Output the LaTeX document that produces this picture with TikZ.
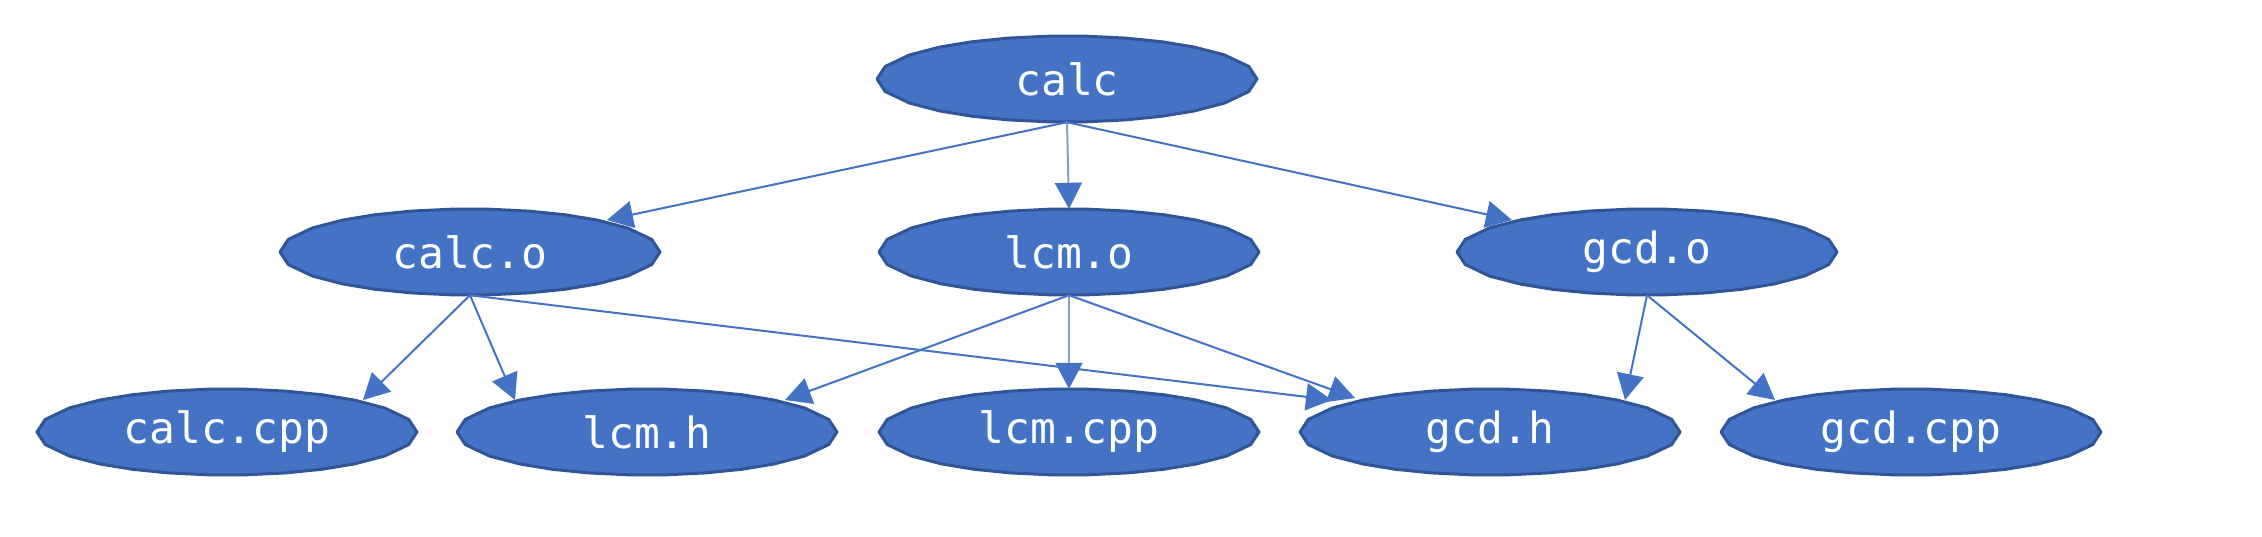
\documentclass[tikz,border=0pt]{standalone}
\usepackage{fontspec}
\setmonofont{DejaVu Sans Mono}
\usetikzlibrary{shapes.geometric,arrows.meta,calc,backgrounds}
\definecolor{nodefill}{HTML}{4472C4}
\definecolor{nodeline}{HTML}{2F5597}
\definecolor{edgecol}{HTML}{4472C4}
\definecolor{edgegray}{HTML}{8A9CC0}
\tikzset{
  fnode/.style={ellipse, draw=none,
    minimum width=380pt, minimum height=86pt, inner sep=0pt,
    text=white, font=\ttfamily\fontsize{43}{50}\selectfont},
  shapepoly/.style={fill=nodefill, draw=nodeline, line width=3pt, line join=round},
  dep/.style={draw=edgecol, line width=2pt,
    -{Triangle[length=26pt,width=27pt,color=edgecol]}},
  depgray/.style={dep, draw=edgegray},
}
\begin{document}
\begin{tikzpicture}[x=1pt,y=-1pt]
\useasboundingbox (0,0) rectangle (2262,536);
\node[fnode] (calc) at (1067,79) {calc};
\node[fnode] (calco) at (470,252) {calc.o};
\node[fnode] (lcmo) at (1069,252) {lcm.o};
\node[fnode] (gcdo) at (1647,252) {gcd.o};
\node[fnode] (calccpp) at (227,432) {calc.cpp};
\node[fnode] (lcmh) at (647,432) {lcm.h};
\node[fnode] (lcmcpp) at (1069,432) {lcm.cpp};
\node[fnode] (gcdh) at (1490,432) {gcd.h};
\node[fnode] (gcdcpp) at (1911,432) {gcd.cpp};
\begin{pgfonlayer}{background}
\foreach \n in {calc,calco,lcmo,gcdo,calccpp,lcmh,lcmcpp,gcdh,gcdcpp}{
  \begin{scope}[shift={(\n.center)}]
    \draw[shapepoly] (0:190 and 43)
      \foreach \a in {17,34,48,60,72,84,96,108,120,132,146,163,180,197,214,228,240,252,264,276,288,300,312,326,343}{ -- (\a:190 and 43)} -- cycle;
  \end{scope}
}
\end{pgfonlayer}
\draw[dep] (calc.south) -- ($(calco)+(137,-32)$);
\draw[depgray] (calc.south) -- (lcmo.north);
\draw[dep] (calc.south) -- ($(gcdo)+(-135,-32)$);
\draw[dep] (calco.south) -- ($(calccpp)+(136,-32)$);
\draw[dep] (calco.south) -- ($(lcmh)+(-132,-32)$);
\draw[dep] (calco.south) -- ($(gcdh)+(-158,-32)$);
\draw[dep] (lcmo.south) -- ($(lcmh)+(138,-32)$);
\draw[depgray] (lcmo.south) -- (lcmcpp.north);
\draw[dep] (lcmo.south) -- ($(gcdh)+(-135,-34)$);
\draw[dep] (gcdo.south) -- ($(gcdh)+(135,-32)$);
\draw[dep] (gcdo.south) -- ($(gcdcpp)+(-136,-32)$);
\end{tikzpicture}
\end{document}
